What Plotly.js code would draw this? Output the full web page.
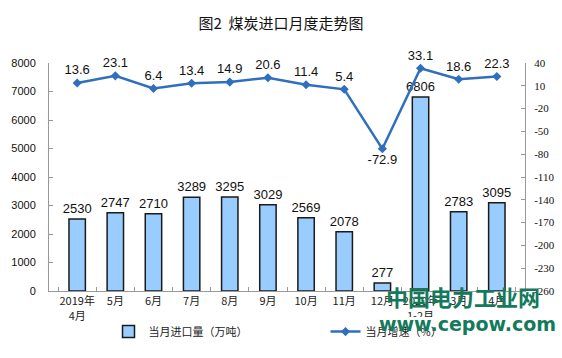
<!DOCTYPE html>
<html>
<head>
<meta charset="utf-8">
<script src="https://cdn.plot.ly/plotly-3.0.1.min.js"></script>
<style>html,body{margin:0;padding:0;background:#fff;}#chart{width:562px;height:358px;}</style>
</head>
<body>
<div id="chart"></div>
<script>
const categories = ["2019年<br>4月","5月","6月","7月","8月","9月","10月","11月","12月","2020年<br>1-2月","3月","4月"];
const importVolume = [2530, 2747, 2710, 3289, 3295, 3029, 2569, 2078, 277, 6806, 2783, 3095];
const growthRate = [13.6, 23.1, 6.4, 13.4, 14.9, 20.6, 11.4, 5.4, -72.9, 33.1, 18.6, 22.3];
const leftTicks = [0,1000,2000,3000,4000,5000,6000,7000,8000];
const rightTicks = [-260,-230,-200,-170,-140,-110,-80,-50,-20,10,40];

const cjk = '"Noto Sans CJK SC", "Liberation Sans", sans-serif';
const lineColor = '#2F6FBE';

const traces = [
  {
    type: 'bar', name: '当月进口量（万吨）',
    x: categories, y: importVolume,
    marker: {color: '#99CCFF', line: {color: '#1a1a1a', width: 1.5}},
    width: 0.43,
    text: importVolume.map(String), textposition: 'outside', cliponaxis: false,
    constraintext: 'none',
    textfont: {family: '"Liberation Sans", Arial, sans-serif', size: 13, color: '#111'},
    yaxis: 'y'
  },
  {
    type: 'scatter', mode: 'lines+markers+text', name: '当月增速（%）',
    x: categories, y: growthRate,
    line: {color: lineColor, width: 2.5},
    marker: {symbol: 'diamond', size: 7, color: lineColor},
    text: growthRate.map(v => v.toFixed(1)),
    textposition: growthRate.map(v => v < 0 ? 'bottom center' : 'top center'),
    textfont: {family: '"Liberation Sans", Arial, sans-serif', size: 13, color: '#111'},
    cliponaxis: false,
    yaxis: 'y2'
  }
];

const layout = {
  width: 562, height: 358,
  margin: {l: 49, r: 37, t: 63, b: 60},
  paper_bgcolor: '#fff', plot_bgcolor: '#fff',
  title: {text: '图2  煤炭进口月度走势图', x: 0.5, xanchor: 'center', y: 0.935, yanchor: 'middle',
          font: {family: cjk, size: 15, color: '#111'}},
  showlegend: true,
  legend: {orientation: 'h', x: 0.125, xanchor: 'left', y: -0.178, yanchor: 'middle',
           entrywidth: 172, entrywidthmode: 'pixels',
           font: {family: cjk, size: 11, color: '#222'}, itemwidth: 30, traceorder: 'normal'},
  xaxis: {
    type: 'category', showgrid: false, showline: true, linecolor: '#999', linewidth: 1,
    ticks: 'inside', tickson: 'boundaries', ticklen: 4, tickcolor: '#999', tickangle: 0,
    tickfont: {family: cjk, size: 11, color: '#222'}, automargin: false
  },
  yaxis: {
    range: [0, 8000], tickvals: leftTicks, showgrid: false, zeroline: false,
    showline: true, linecolor: '#999', linewidth: 1, ticks: 'inside', ticklen: 4, tickcolor: '#999',
    tickfont: {family: '"Liberation Sans", Arial, sans-serif', size: 11, color: '#111'},
    ticklabelstandoff: 10, automargin: false
  },
  yaxis2: {
    overlaying: 'y', side: 'right', range: [-260, 40], tickvals: rightTicks,
    ticktext: rightTicks.map(String),
    showgrid: false, zeroline: false, showline: true, linecolor: '#999', linewidth: 1,
    ticks: 'inside', ticklen: 4, tickcolor: '#999',
    tickfont: {family: '"Liberation Serif", "Times New Roman", serif', size: 11, color: '#111'},
    ticklabelstandoff: 6, automargin: false
  },
  annotations: [
    {text: '<b>中国电力工业网</b>', xref: 'paper', yref: 'paper', x: 0.87, y: -0.02,
     xanchor: 'center', yanchor: 'middle', showarrow: false,
     font: {family: cjk, size: 22, color: '#137A5C'}},
    {text: '<b>www.cepow.com</b>', xref: 'paper', yref: 'paper', x: 0.88, y: -0.145,
     xanchor: 'center', yanchor: 'middle', showarrow: false,
     font: {family: '"DejaVu Sans", sans-serif', size: 19, color: '#137A5C'}}
  ]
};

Plotly.newPlot('chart', traces, layout, {displayModeBar: false, staticPlot: true});
</script>
</body>
</html>
